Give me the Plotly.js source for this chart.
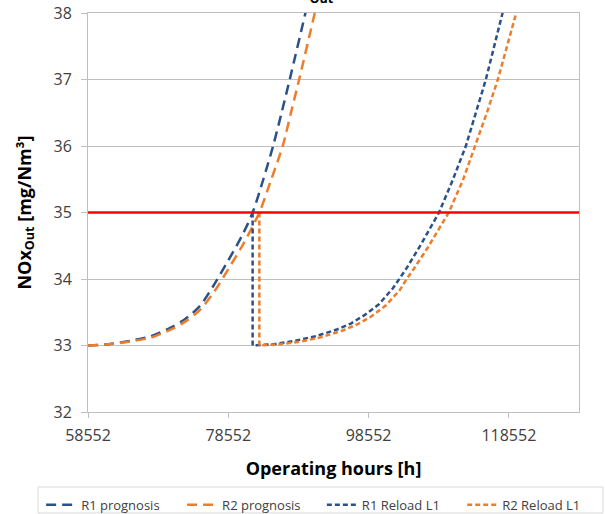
<!DOCTYPE html>
<html><head><meta charset="utf-8">
<script src="https://cdn.plot.ly/plotly-3.0.1.min.js"></script>
<style>html,body{margin:0;padding:0;background:#fff}#chart{width:605px;height:514px}</style>
</head><body><div id="chart"></div>
<script>
// Operating hours [h] and NOx_Out [mg/Nm³]
const r1PrognosisHours = [58552, 61552, 64552, 67552, 70552, 72552, 74552, 76552, 78552, 80552, 82022, 83552, 84938, 86152, 87309, 89552, 90552];
const r1PrognosisValues = [33.00, 33.02, 33.07, 33.14, 33.28, 33.41, 33.60, 33.92, 34.28, 34.66, 35.00, 35.50, 36.00, 36.50, 37.00, 38.00, 38.45];

const r2PrognosisHours = [58552, 61552, 64552, 67552, 70552, 72552, 74552, 76552, 78552, 80552, 82982, 84552, 86309, 87552, 88652, 90881, 91852];
const r2PrognosisValues = [33.00, 33.02, 33.06, 33.12, 33.25, 33.37, 33.54, 33.81, 34.15, 34.50, 35.00, 35.46, 36.00, 36.53, 37.00, 38.00, 38.45];

const r1ReloadHours = [82022, 82022, 85022, 88022, 91022, 94022, 96022, 98022, 100022, 102022, 104022, 106022, 108595, 110522, 112422, 114022, 115272, 117652, 118822];
const r1ReloadValues = [35.00, 33.00, 33.02, 33.07, 33.14, 33.24, 33.33, 33.46, 33.62, 33.86, 34.17, 34.52, 35.00, 35.48, 36.00, 36.55, 37.00, 38.00, 38.50];

const r2ReloadHours = [82982, 82982, 85982, 88982, 91982, 94982, 96982, 98982, 100982, 102982, 103982, 104982, 106982, 109982, 111982, 113782, 115482, 116982, 119652, 120782];
const r2ReloadValues = [35.00, 33.00, 33.02, 33.06, 33.13, 33.23, 33.32, 33.44, 33.60, 33.83, 34.00, 34.15, 34.47, 35.00, 35.48, 36.00, 36.52, 37.00, 38.00, 38.45];

const limitHours = [58552, 128552];
const limitValues = [35, 35];

const xTickValues = [58552, 78552, 98552, 118552];
const xTickLabels = ["58552", "78552", "98552", "118552"];

const seriesNames = ["R1 prognosis", "R2 prognosis", "R1 Reload L1", "R2 Reload L1"];

const BLUE = "#2A5189", ORANGE = "#EB7D2B";
const FONT = "'Open Sans', Carlito, Lato, sans-serif";

const traces = [
  {x: r1PrognosisHours, y: r1PrognosisValues, name: seriesNames[0], mode: "lines", legend: "legend",
   line: {color: BLUE, width: 2.5, dash: "10px,6px", shape: "spline", smoothing: 0.8}},
  {x: r2PrognosisHours, y: r2PrognosisValues, name: seriesNames[1], mode: "lines", legend: "legend2",
   line: {color: ORANGE, width: 2.5, dash: "10px,6px", shape: "spline", smoothing: 0.8}},
  {x: r1ReloadHours, y: r1ReloadValues, name: seriesNames[2], mode: "lines", legend: "legend3",
   line: {color: BLUE, width: 2.5, dash: "5px,3px"}},
  {x: r2ReloadHours, y: r2ReloadValues, name: seriesNames[3], mode: "lines", legend: "legend4",
   line: {color: ORANGE, width: 2.5, dash: "5px,3px"}},
  {x: limitHours, y: limitValues, mode: "lines", showlegend: false, hoverinfo: "skip",
   line: {color: "#FF0000", width: 2.5}}
];

function legendAt(xPos) {
  return {
    orientation: "h", xref: "container", yref: "container",
    x: xPos, xanchor: "left", y: 0.047, yanchor: "top",
    borderwidth: 0, bgcolor: "rgba(0,0,0,0)",
    font: {family: FONT, size: 13, color: "#404040"},
    itemwidth: 30
  };
}

const layout = {
  width: 605, height: 514,
  margin: {l: 88, r: 26, t: 13, b: 102},
  paper_bgcolor: "#fff", plot_bgcolor: "#fff",
  font: {family: FONT, color: "#404040", size: 16},
  showlegend: true,
  xaxis: {
    range: [58552, 128552], tickvals: xTickValues, ticktext: xTickLabels,
    showgrid: false, zeroline: false, showline: true, mirror: true,
    linecolor: "#BFBFBF", linewidth: 1, ticks: "outside", ticklen: 5, tickcolor: "#BFBFBF",
    ticklabelstandoff: 4,
    tickfont: {family: FONT, size: 16, color: "#404040"},
    title: {text: "Operating hours [h]", font: {family: FONT, size: 18, color: "#000", weight: "bold"}, standoff: 17}
  },
  yaxis: {
    range: [32, 38], dtick: 1, tick0: 32,
    showgrid: true, gridcolor: "#BFBFBF", gridwidth: 1, zeroline: false,
    showline: true, mirror: true, linecolor: "#BFBFBF", linewidth: 1,
    ticks: "outside", ticklen: 6, tickcolor: "#BFBFBF",
    ticklabelstandoff: 6,
    tickfont: {family: FONT, size: 16, color: "#404040"},
    title: {text: "NOx<sub>Out</sub> [mg/Nm³]", font: {family: FONT, size: 18, color: "#000", weight: "bold"}, standoff: 17}
  },
  legend: legendAt(0.068),
  legend2: legendAt(0.301),
  legend3: legendAt(0.532),
  legend4: legendAt(0.764),
  shapes: [{
    type: "rect", xref: "paper", yref: "paper",
    x0: -0.1018, x1: 1.0488, y0: -0.2531, y1: -0.188,
    line: {color: "#D9D9D9", width: 1}, fillcolor: "rgba(0,0,0,0)", layer: "below"
  }],
  annotations: [{
    text: "<b>NOx<sub>Out</sub></b>", xref: "paper", yref: "paper",
    x: 0.436, y: 1, xanchor: "center", yanchor: "bottom", yshift: 4,
    showarrow: false, font: {family: FONT, size: 18, color: "#000"}
  }]
};

Plotly.newPlot("chart", traces, layout, {displayModeBar: false, staticPlot: true});
</script>
</body></html>
